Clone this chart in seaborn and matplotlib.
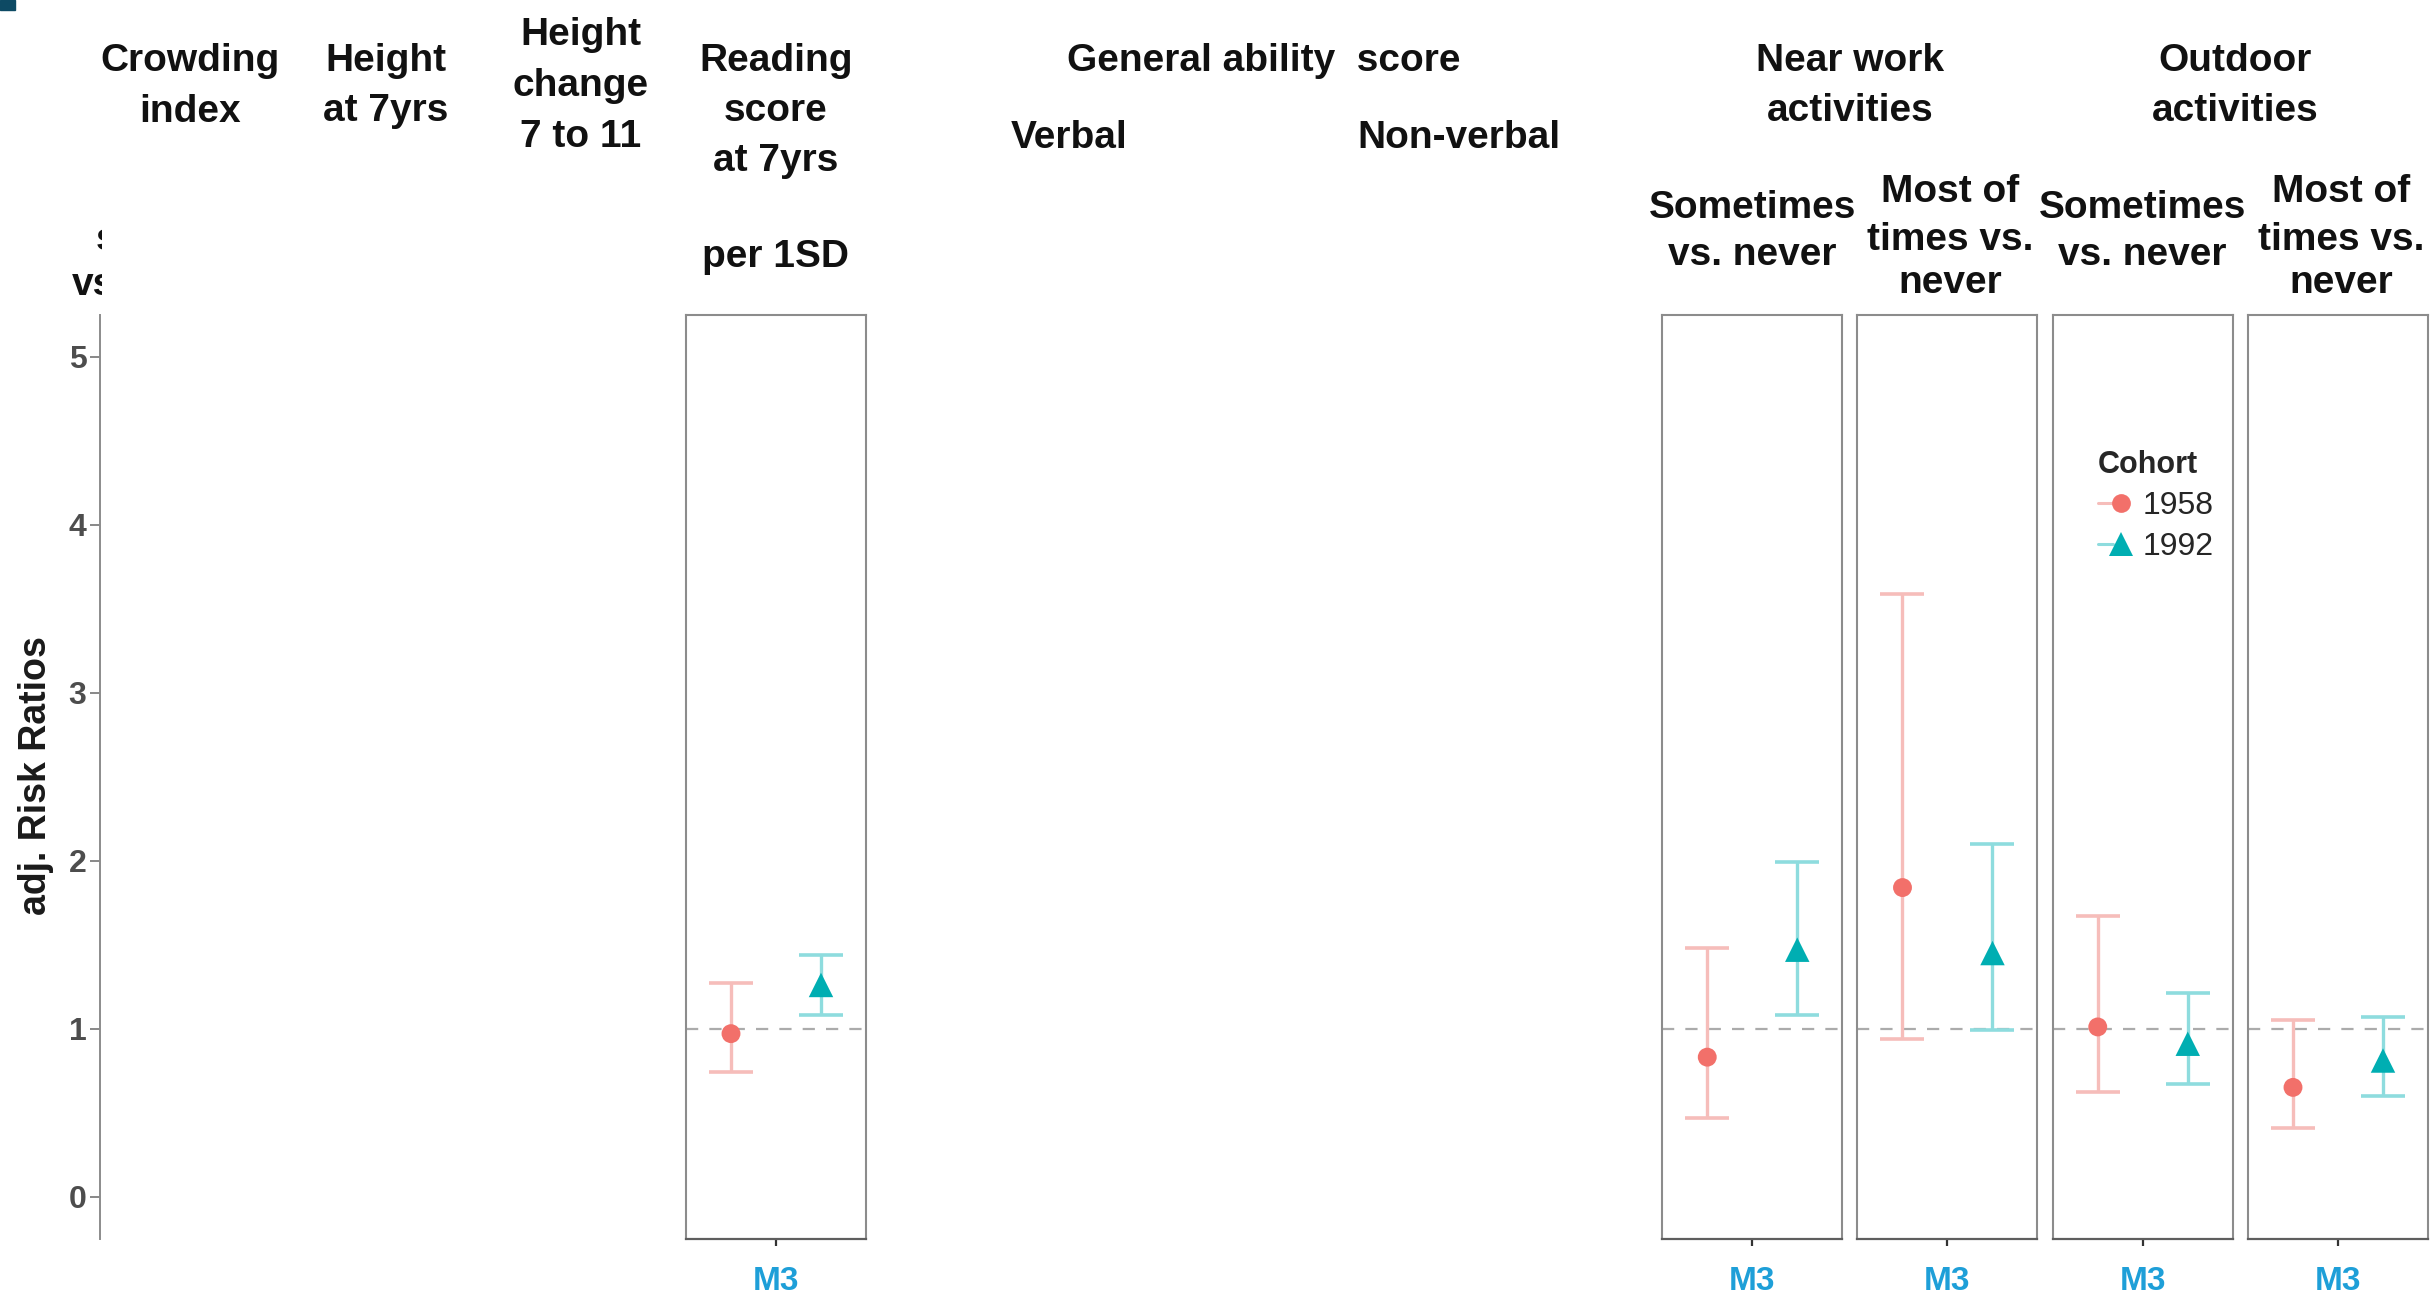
import numpy as np
import pandas as pd
import matplotlib
matplotlib.use("Agg")
import matplotlib.pyplot as plt
from matplotlib.lines import Line2D
from matplotlib.patches import Rectangle
from matplotlib.legend_handler import HandlerTuple
from matplotlib.transforms import Bbox, TransformedBbox
import seaborn as sns

# ---------------- data ----------------
panels = ["Reading", "NearSometimes", "NearMost", "OutdoorSometimes", "OutdoorMost"]
models = ["M3", "M3", "M3", "M3", "M3"]
cohorts = ["1958", "1992"]
rr_1958 = [0.97, 0.83, 1.84, 1.01, 0.65]
lo_1958 = [0.74, 0.47, 0.94, 0.62, 0.41]
hi_1958 = [1.27, 1.48, 3.59, 1.67, 1.05]
rr_1992 = [1.26, 1.47, 1.45, 0.91, 0.81]
lo_1992 = [1.08, 1.08, 0.99, 0.67, 0.60]
hi_1992 = [1.44, 1.99, 2.10, 1.21, 1.07]
y_ticks = [0, 1, 2, 3, 4, 5]
y_label = "adj. Risk Ratios"

top_headers = [["Crowding", "index"], ["Height", "at 7yrs"],
               ["Height", "change", "7 to 11"], ["Reading", "score", "at 7yrs"]]
ability_header = "General ability  score"
ability_sub = ["Verbal", "Non-verbal"]
activity_headers = [["Near work", "activities"], ["Outdoor", "activities"]]
activity_sub = [["Sometimes", "vs. never"], ["Most of", "times vs.", "never"]]
unit_label = "per 1SD"

rows = []
for i, p in enumerate(panels):
    rows.append(dict(panel=p, model=models[i], cohort="1958",
                     rr=rr_1958[i], lo=lo_1958[i], hi=hi_1958[i]))
    rows.append(dict(panel=p, model=models[i], cohort="1992",
                     rr=rr_1992[i], lo=lo_1992[i], hi=hi_1992[i]))
df = pd.DataFrame(rows)

# ---------------- style ----------------
sns.set_style("white")
plt.rcParams["font.family"] = ["Liberation Sans", "DejaVu Sans"]

point_col = {"1958": "#F2706A", "1992": "#00AEB2"}
bar_col = {"1958": "#F6BDBA", "1992": "#8EDCDE"}
markers = {"1958": "o", "1992": "^"}
msizes = {"1958": 185, "1992": 310}
dodge = {"1958": -0.3, "1992": 0.3}
df["xpos"] = df["cohort"].map(dodge)

W, H = 2432, 1295
fig = plt.figure(figsize=(W / 100, H / 100), dpi=100)
fig.patch.set_facecolor("white")

pitch, left0, pw = 195.25, 100.25, 180.0
top_px, bot_px = 315.0, 1238.5


def col_left(k):
    return left0 + pitch * k


def col_center(k):
    return col_left(k) + pw / 2


def add_panel(k):
    return fig.add_axes([col_left(k) / W, 1 - bot_px / H, pw / W, (bot_px - top_px) / H])


# y axis column
ax0 = add_panel(0)
ax0.set_facecolor("none")
ax0.set_ylim(-0.25, 5.25)
ax0.set_xlim(-0.6, 0.6)
for s in ["top", "right", "bottom"]:
    ax0.spines[s].set_visible(False)
ax0.spines["left"].set_color("#8C8C8C")
ax0.spines["left"].set_linewidth(1.4)
ax0.set_xticks([])
ax0.set_yticks(y_ticks)
ax0.tick_params(axis="y", length=7, width=1.3, color="#7F7F7F",
                labelsize=23, labelcolor="#4D4D4D", pad=3, left=True)
for t in ax0.get_yticklabels():
    t.set_fontweight("bold")

panel_cols = {"Reading": 3, "NearSometimes": 8, "NearMost": 9,
              "OutdoorSometimes": 10, "OutdoorMost": 11}

for p in panels:
    ax = add_panel(panel_cols[p])
    sub = df[df["panel"] == p]
    ax.axhline(1, color="#ABABAB", lw=1.6, ls=(0, (5.5, 5.0)), zorder=1)
    for c in cohorts:
        r = sub[sub["cohort"] == c].iloc[0]
        ax.errorbar(r["xpos"], r["rr"], yerr=[[r["rr"] - r["lo"]], [r["hi"] - r["rr"]]],
                    fmt="none", ecolor=bar_col[c], elinewidth=2.4, capsize=15.5,
                    capthick=2.6, zorder=2)
    sns.scatterplot(data=sub, x="xpos", y="rr", hue="cohort", style="cohort",
                    size="cohort", palette=point_col, markers=markers, sizes=msizes,
                    linewidth=0, legend=False, ax=ax, zorder=3)
    ax.set_xlim(-0.6, 0.6)
    ax.set_ylim(-0.25, 5.25)
    ax.set_xticks([0])
    ax.set_xticklabels(sub["model"].iloc[:1])
    ax.set_yticks([])
    ax.set_xlabel("")
    ax.set_ylabel("")
    ax.tick_params(axis="x", length=5, width=1.6, color="#333333", pad=15,
                   labelsize=24, labelcolor="#1E9FD8", bottom=True)
    for t in ax.get_xticklabels():
        t.set_fontweight("bold")
    for s in ["top", "left", "right"]:
        ax.spines[s].set_color("#8C8C8C")
        ax.spines[s].set_linewidth(1.5)
    ax.spines["bottom"].set_color("#5E5E5E")
    ax.spines["bottom"].set_linewidth(1.6)

# y axis title
fig.text(36 / W, 1 - 776 / H, y_label, rotation=90, ha="center", va="center",
         fontsize=27, fontweight="bold", color="#1A1A1A")


def header(xc, lines, baselines, size=28):
    for line, yb in zip(lines, baselines):
        fig.text(xc / W, 1 - yb / H, line, ha="center", va="baseline",
                 fontsize=size, fontweight="bold", color="#111111")


header(col_center(0), top_headers[0], [71, 122])
header(col_center(1), top_headers[1], [71, 121])
header(col_center(2), top_headers[2], [45, 96, 147])
header(col_center(3), top_headers[3], [71, 121, 171])
header(col_center(3), [unit_label], [267])
header((col_center(4) + col_center(7)) / 2, [ability_header], [71])
header((col_center(4) + col_center(5)) / 2, [ability_sub[0]], [148])
header((col_center(6) + col_center(7)) / 2, [ability_sub[1]], [148])
header((col_center(8) + col_center(9)) / 2, activity_headers[0], [71, 121])
header((col_center(10) + col_center(11)) / 2 - 5, activity_headers[1], [71, 121])
for k in (8, 10):
    header(col_center(k), activity_sub[0], [218, 265])
for k in (9, 11):
    header(col_center(k) + 3, activity_sub[1], [202, 250, 293])

# clipped label of the leftmost column
clip = TransformedBbox(Bbox([[0, 0], [102 / W, 1]]), fig.transFigure)
for txt, x, yb in [("s", 96, 250), ("vs.", 72, 295)]:
    t = fig.text(x / W, 1 - yb / H, txt, ha="left", va="baseline",
                 fontsize=28, fontweight="bold", color="#111111")
    t.set_clip_box(clip)
    t.set_clip_on(True)

# legend
handles = []
for c in cohorts:
    handles.append((Line2D([], [], color=bar_col[c], lw=2.2),
                    Line2D([], [], marker=markers[c], ls="none", color=point_col[c],
                           markersize=13.5 if c == "1958" else 17.5, markeredgewidth=0)))
fig.legend(handles, cohorts, title="Cohort", loc="upper left",
           bbox_to_anchor=(2098 / W, 1 - 450 / H), frameon=False, fontsize=23,
           title_fontproperties={"weight": "bold", "size": 22}, alignment="left",
           handlelength=0.95, handletextpad=0.45, labelspacing=0.35, borderpad=0,
           borderaxespad=0, handler_map={tuple: HandlerTuple(ndivide=None)})

# corner mark
fig.patches.append(Rectangle((0, 1 - 10 / H), 15 / W, 10 / H, transform=fig.transFigure,
                             color="#0D4A64", zorder=5))

fig.savefig("out.png", dpi=100, facecolor="white")
